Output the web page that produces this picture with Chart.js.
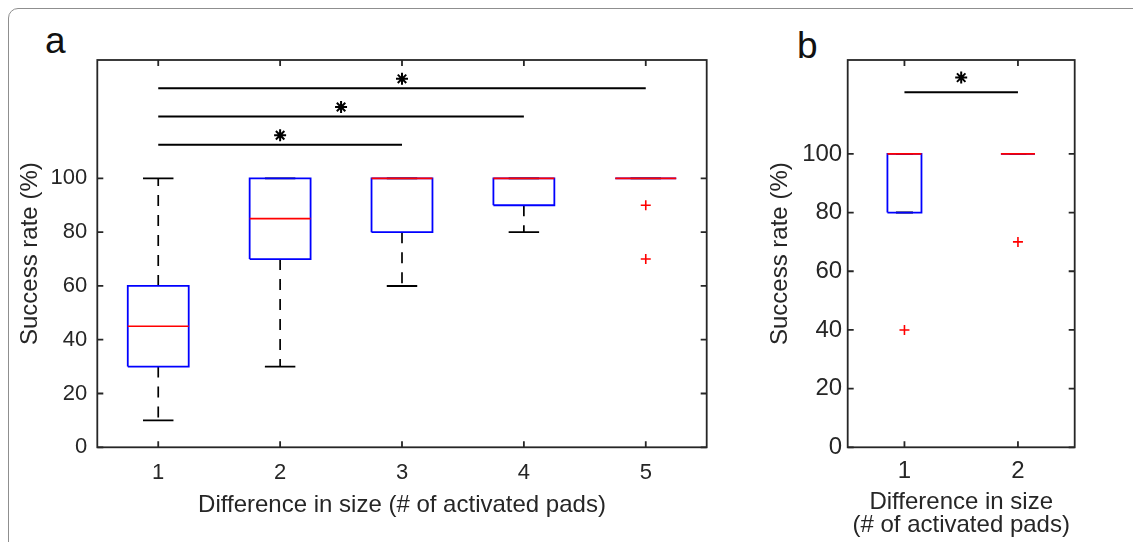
<!DOCTYPE html>
<html>
<head>
<meta charset="utf-8">
<script src="https://cdn.jsdelivr.net/npm/chart.js@4/dist/chart.umd.min.js"></script>
<style>
  html, body { margin: 0; padding: 0; background: #fff; width: 1133px; height: 542px; overflow: hidden; position: relative; }
  #panelBorder { position: absolute; left: 8px; top: 8px; width: 1300px; height: 700px; border: 1.5px solid #8f8f8f; border-radius: 10px; box-sizing: border-box; }
  .tag { position: absolute; font-family: "Liberation Sans", Arial, sans-serif; font-size: 37px; line-height: 37px; color: #111; }
  canvas { position: absolute; top: 0; }
</style>
</head>
<body>
<div id="panelBorder"></div>
<div class="tag" style="left:45px; top:22px">a</div>
<div class="tag" style="left:797px; top:27px">b</div>
<canvas id="chartA" width="760" height="542" style="left:0px"></canvas>
<canvas id="chartB" width="393" height="542" style="left:740px"></canvas>
<script>
// ---- Panel a: success rate vs. difference in size ----
const groupsA = [1, 2, 3, 4, 5];
const lowA = [10, 30, 60, 80, 100];      // lower whisker ends
const q1A = [30, 70, 80, 90, 100];
const medianA = [45, 85, 100, 100, 100];
const q3A = [60, 100, 100, 100, 100];
const highA = [100, 100, 100, 100, 100]; // upper whisker ends
const outliersA = [[], [], [], [], [90, 70]];
const pairsA = [[1, 3], [1, 4], [1, 5]];           // significant comparisons
const pairLevelsA = [112.5, 123, 133.5];
const starLevelsA = [116, 126.5, 137];
const xTicksA = [1, 2, 3, 4, 5];

// ---- Panel b ----
const groupsB = [1, 2];
const lowB = [80, 100];
const q1B = [80, 100];
const medianB = [100, 100];
const q3B = [100, 100];
const highB = [100, 100];
const outliersB = [[40], [70]];
const pairsB = [[1, 2]];
const pairLevelsB = [121];
const starLevelsB = [126];
const xTicksB = [1, 2];

const yTickValues = [0, 20, 40, 60, 80, 100];

const FONT = '"Liberation Sans", Arial, Helvetica, sans-serif';
const INK = '#262626';
const BLUE = '#0000ff';
const RED = '#ff0000';

// a break between separate line pieces
const gap = x => ({ x: x, y: null });

function lineSet(points, color, width, order, dash) {
  return {
    type: 'scatter', showLine: true, data: points,
    borderColor: color, borderWidth: width, borderDash: dash || [],
    pointRadius: 0, pointHoverRadius: 0, fill: false, order: order, spanGaps: false
  };
}

function markerSet(points, style, color, radius, width, order) {
  return {
    type: 'scatter', data: points, pointStyle: style,
    pointRadius: radius, pointHoverRadius: radius,
    pointBorderColor: color, pointBackgroundColor: color, pointBorderWidth: width,
    order: order
  };
}

function boxplotDatasets(g, low, q1, med, q3, high, outl, pairs, pairY, starY, halfBox, halfCap) {
  const boxes = [], medians = [], caps = [], whiskers = [], outPts = [], sig = [], stars = [];
  g.forEach((x, i) => {
    boxes.push({ x: x - halfBox, y: q1[i] }, { x: x + halfBox, y: q1[i] },
               { x: x + halfBox, y: q3[i] }, { x: x - halfBox, y: q3[i] },
               { x: x - halfBox, y: q1[i] }, gap(x));
    medians.push({ x: x - halfBox, y: med[i] }, { x: x + halfBox, y: med[i] }, gap(x));
    caps.push({ x: x - halfCap, y: low[i] }, { x: x + halfCap, y: low[i] }, gap(x),
              { x: x - halfCap, y: high[i] }, { x: x + halfCap, y: high[i] }, gap(x));
    whiskers.push({ x: x, y: q3[i] }, { x: x, y: high[i] }, gap(x),
                  { x: x, y: q1[i] }, { x: x, y: low[i] }, gap(x));
    outl[i].forEach(v => outPts.push({ x: x, y: v }));
  });
  pairs.forEach((p, k) => {
    sig.push({ x: p[0], y: pairY[k] }, { x: p[1], y: pairY[k] }, gap(p[1]));
    stars.push({ x: (p[0] + p[1]) / 2, y: starY[k] });
  });
  return [
    markerSet(outPts, 'cross', RED, 5, 1.6, 0),
    markerSet(stars, 'star', '#000', 6, 2, 0),
    lineSet(medians, RED, 1.7, 1),
    lineSet(boxes, BLUE, 1.8, 2),
    lineSet(sig, '#000', 1.9, 2),
    lineSet(caps, '#000', 1.9, 3),
    lineSet(whiskers, '#000', 1.7, 4, [11, 9])
  ];
}

// axes box with inward tick marks on all four sides
const axesBox = {
  id: 'axesBox',
  afterDraw(chart) {
    const { ctx, chartArea: a, scales: { x, y } } = chart;
    const L = 6;
    ctx.save();
    ctx.strokeStyle = INK;
    ctx.lineWidth = 1.8;
    ctx.lineCap = 'butt';
    ctx.beginPath();
    x.ticks.forEach(t => {
      const px = x.getPixelForValue(t.value);
      ctx.moveTo(px, a.bottom); ctx.lineTo(px, a.bottom - L);
      ctx.moveTo(px, a.top); ctx.lineTo(px, a.top + L);
    });
    y.ticks.forEach(t => {
      const py = y.getPixelForValue(t.value);
      ctx.moveTo(a.left, py); ctx.lineTo(a.left + L, py);
      ctx.moveTo(a.right, py); ctx.lineTo(a.right - L, py);
    });
    ctx.stroke();
    ctx.strokeRect(a.left, a.top, a.right - a.left, a.bottom - a.top);
    ctx.restore();
  }
};

function makeChart(id, c) {
  return new Chart(document.getElementById(id), {
    type: 'scatter',
    data: { datasets: c.datasets },
    options: {
      responsive: false,
      animation: false,
      events: [],
      layout: { padding: { left: 0, top: 60, right: c.padRight, bottom: 0 } },
      plugins: { legend: { display: false }, tooltip: { enabled: false } },
      scales: {
        x: {
          type: 'linear', min: c.xMin, max: c.xMax,
          grid: { display: false, drawTicks: false },
          border: { display: false },
          afterBuildTicks: s => { s.ticks = c.xTicks.map(v => ({ value: v })); },
          afterFit: s => { s.height = c.xAxisHeight; },
          ticks: { font: { family: FONT, size: c.tickSize }, color: INK, padding: c.xTickPad,
                   maxRotation: 0, autoSkip: false, callback: v => String(v) },
          title: { display: true, text: c.xTitle, color: INK,
                   font: { family: FONT, size: 24, lineHeight: c.xTitleLH },
                   padding: { top: 0, bottom: c.xTitlePad } }
        },
        y: {
          type: 'linear', min: 0, max: c.yMax,
          grid: { display: false, drawTicks: false },
          border: { display: false },
          afterBuildTicks: s => { s.ticks = yTickValues.map(v => ({ value: v })); },
          afterFit: s => { s.width = c.yAxisWidth; },
          ticks: { font: { family: FONT, size: c.tickSize }, color: INK, padding: c.yTickPad,
                   callback: v => String(v) },
          title: { display: true, text: 'Success rate (%)', color: INK,
                   font: { family: FONT, size: 24 },
                   padding: { top: c.yTitlePad, bottom: 0 } }
        }
      }
    },
    plugins: [axesBox]
  });
}

makeChart('chartA', {
  datasets: boxplotDatasets(groupsA, lowA, q1A, medianA, q3A, highA, outliersA,
                            pairsA, pairLevelsA, starLevelsA, 0.25, 0.125),
  xMin: 0.5, xMax: 5.5, yMax: 144, xTicks: xTicksA,
  padRight: 760 - 706.7, xAxisHeight: 542 - 447.3, yAxisWidth: 97.3,
  tickSize: 22, xTickPad: 12.8, yTickPad: 10,
  xTitle: 'Difference in size (# of activated pads)', xTitleLH: 1.2, xTitlePad: 22.6,
  yTitlePad: 15.6
});

makeChart('chartB', {
  datasets: boxplotDatasets(groupsB, lowB, q1B, medianB, q3B, highB, outliersB,
                            pairsB, pairLevelsB, starLevelsB, 0.15, 0.075),
  xMin: 0.5, xMax: 2.5, yMax: 132, xTicks: xTicksB,
  padRight: 393 - 334.7, xAxisHeight: 542 - 447.3, yAxisWidth: 107.7,
  tickSize: 24, xTickPad: 9.6, yTickPad: 5.5,
  xTitle: ['Difference in size', '(# of activated pads)'], xTitleLH: 0.95, xTitlePad: 5.6,
  yTitlePad: 25.6
});
</script>
</body>
</html>
